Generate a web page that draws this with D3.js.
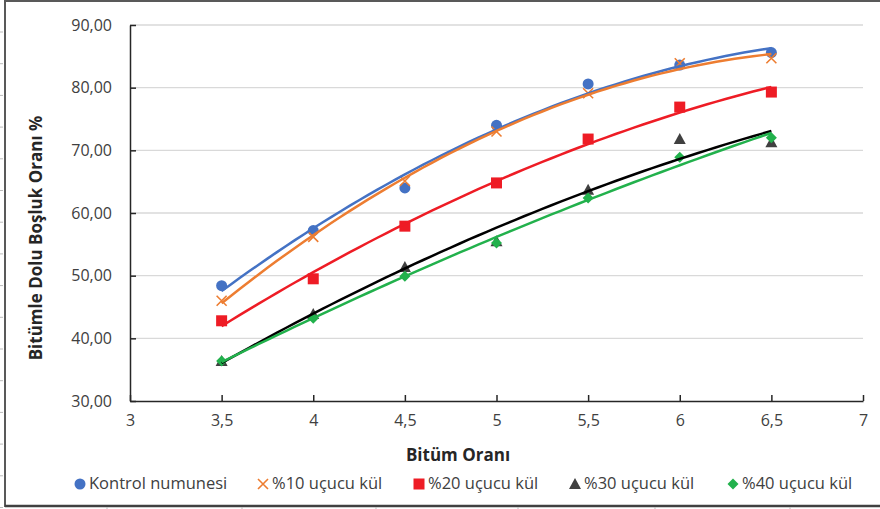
<!DOCTYPE html>
<html><head><meta charset="utf-8">
<script src="https://cdn.jsdelivr.net/npm/d3@7"></script>
<style>body{margin:0;background:#fff}svg{display:block}text{font-family:"Open Sans","Noto Sans",sans-serif;}</style>
</head><body><svg id="c" width="880" height="509"></svg>
<script>
const bitumen = [3.5, 4, 4.5, 5, 5.5, 6, 6.5];
const kontrol = [48.4, 57.2, 64.0, 74.0, 80.6, 83.6, 85.6];
const kul10   = [46.0, 56.2, 65.1, 73.0, 79.1, 83.9, 84.7];
const kul20   = [42.8, 49.5, 57.9, 64.8, 71.8, 76.9, 79.3];
const kul30   = [36.4, 43.9, 51.4, 55.5, 63.7, 71.8, 71.3];
const kul40   = [36.4, 43.2, 49.9, 55.2, 62.4, 68.9, 72.0];
const seriesNames = ["Kontrol numunesi", "%10 uçucu kül", "%20 uçucu kül", "%30 uçucu kül", "%40 uçucu kül"];
const xTicks = [3, 3.5, 4, 4.5, 5, 5.5, 6, 6.5, 7];
const yTicks = [30, 40, 50, 60, 70, 80, 90];

const styles = [
  {marker:"circle", fill:"#4472C4", line:"#4472C4"},
  {marker:"x", fill:"#ED7D31", line:"#ED7D31"},
  {marker:"square", fill:"#EE1C25", line:"#EE1C25"},
  {marker:"triangle", fill:"#404040", line:"#000000"},
  {marker:"diamond", fill:"#22B14C", line:"#22B14C"}
];
const allSeries = [kontrol, kul10, kul20, kul30, kul40];

const svg = d3.select("#c");
const x = d3.scaleLinear().domain([3, 7]).range([130, 863]);
const y = d3.scaleLinear().domain([30, 90]).range([401, 25]);
const fmtY = v => d3.format(".2f")(v).replace(".", ",");
const fmtX = v => String(v).replace(".", ",");

// frame
svg.append("line").attr("x1",5).attr("x2",880).attr("y1",1).attr("y2",1).attr("stroke","#595959").attr("stroke-width",2);
svg.append("line").attr("x1",5).attr("x2",5).attr("y1",0).attr("y2",507).attr("stroke","#595959").attr("stroke-width",2);
svg.append("line").attr("x1",5).attr("x2",880).attr("y1",506).attr("y2",506).attr("stroke","#404040").attr("stroke-width",2.5);
// ruler artifacts
for (let i=0;i<16;i++) svg.append("line").attr("x1",0).attr("x2",3).attr("y1",32+i*31.7).attr("y2",32+i*31.7).attr("stroke","#bbb");
[107,242,376,518,655,790].forEach(v=>svg.append("line").attr("x1",v).attr("x2",v).attr("y1",507).attr("y2",509).attr("stroke","#bbb"));

// gridlines
svg.append("g").selectAll("line").data(yTicks.slice(1)).join("line")
  .attr("x1", x(3)).attr("x2", x(7)).attr("y1", d=>y(d)).attr("y2", d=>y(d))
  .attr("stroke", "#D9D9D9").attr("stroke-width", 1.3);

// axes
const yAxis = svg.append("g").attr("transform", `translate(${x(3)},0)`)
  .call(d3.axisLeft(y).tickValues(yTicks).tickFormat(fmtY).tickSizeInner(-6).tickSizeOuter(0).tickPadding(18));
const xAxis = svg.append("g").attr("transform", `translate(0,${y(30)})`)
  .call(d3.axisBottom(x).tickValues(xTicks).tickFormat(fmtX).tickSizeInner(-6).tickSizeOuter(0).tickPadding(14));
[yAxis, xAxis].forEach(g => {
  g.select(".domain").attr("stroke", "#262626").attr("stroke-width", 1.5);
  g.selectAll(".tick line").attr("stroke", "#262626").attr("stroke-width", 1.5);
  g.selectAll(".tick text").attr("font-size", 16).attr("fill", "#404040").attr("font-family", "'Open Sans','Noto Sans',sans-serif");
});

// axis titles
svg.append("text").attr("x", 458).attr("y", 461).attr("text-anchor","middle")
  .attr("font-size",17).attr("font-weight","bold").attr("fill","#262626").text("Bitüm Oranı");
svg.append("text").attr("transform","translate(42,238) rotate(-90)").attr("text-anchor","middle")
  .attr("font-size",17).attr("font-weight","bold").attr("fill","#262626").text("Bitümle Dolu Boşluk Oranı %");

// marker drawing
function drawMarker(g, type, color, cx, cy) {
  if (type==="circle") g.append("circle").attr("cx",cx).attr("cy",cy).attr("r",5.5).attr("fill",color);
  else if (type==="square") g.append("rect").attr("x",cx-5.5).attr("y",cy-5.5).attr("width",11).attr("height",11).attr("fill",color);
  else if (type==="triangle") g.append("path").attr("d",`M${cx},${cy-6}L${cx+6},${cy+5}L${cx-6},${cy+5}Z`).attr("fill",color);
  else if (type==="diamond") g.append("path").attr("d",`M${cx},${cy-5.5}L${cx+5.5},${cy}L${cx},${cy+5.5}L${cx-5.5},${cy}Z`).attr("fill",color);
  else if (type==="x") g.append("path").attr("d",`M${cx-5},${cy-5}L${cx+5},${cy+5}M${cx-5},${cy+5}L${cx+5},${cy-5}`).attr("stroke",color).attr("stroke-width",1.6).attr("fill","none");
}

// quadratic least squares trendline
function quadFit(xs, ys) {
  const n = xs.length;
  let s = [0,0,0,0,0], t=[0,0,0];
  for (let i=0;i<n;i++){ const xv=xs[i]; for(let k=0;k<5;k++) s[k]+=Math.pow(xv,k); for(let k=0;k<3;k++) t[k]+=ys[i]*Math.pow(xv,k); }
  const A=[[s[0],s[1],s[2],t[0]],[s[1],s[2],s[3],t[1]],[s[2],s[3],s[4],t[2]]];
  for (let i=0;i<3;i++){ for(let j=i+1;j<3;j++){ const f=A[j][i]/A[i][i]; for(let k=i;k<4;k++) A[j][k]-=f*A[i][k]; } }
  const c=[0,0,0];
  for (let i=2;i>=0;i--){ let v=A[i][3]; for(let k=i+1;k<3;k++) v-=A[i][k]*c[k]; c[i]=v/A[i][i]; }
  return xv => c[0]+c[1]*xv+c[2]*xv*xv;
}

const markersG = svg.append("g");
const linesG = svg.append("g");
allSeries.forEach((vals, si) => {
  const st = styles[si];
  vals.forEach((v, i) => drawMarker(markersG, st.marker, st.fill, x(bitumen[i]), y(v)));
  const f = quadFit(bitumen, vals);
  const pts = d3.range(0, 61).map(k => { const xv = 3.5 + k*0.05; return [xv, f(xv)]; });
  linesG.append("path").datum(pts)
    .attr("d", d3.line().x(d=>x(d[0])).y(d=>y(d[1])).curve(d3.curveMonotoneX))
    .attr("fill","none").attr("stroke",st.line).attr("stroke-width",2.5);
});

// legend
const legendX = [80, 263, 419, 575, 733];
const lg = svg.append("g");
seriesNames.forEach((name, i) => {
  const st = styles[i];
  drawMarker(lg, st.marker, st.fill, legendX[i], 484);
  lg.append("text").attr("x", legendX[i]+9).attr("y", 489).attr("font-size",16.5).attr("fill","#404040").text(name);
});
</script></body></html>
